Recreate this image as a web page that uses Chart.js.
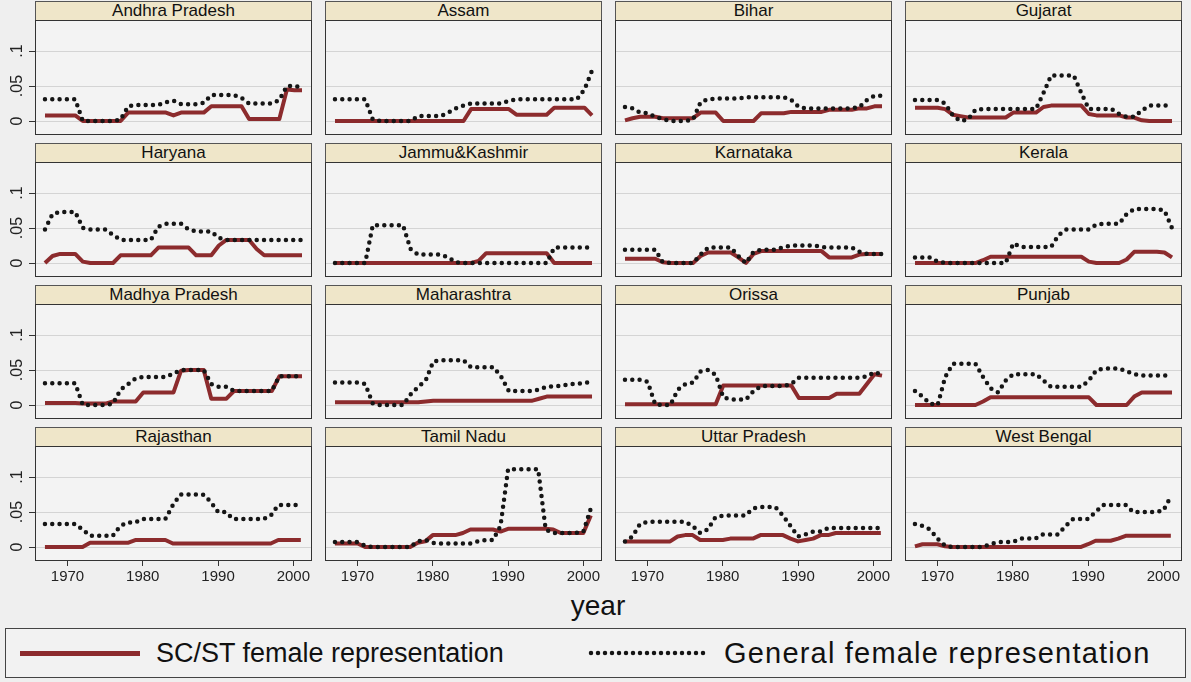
<!DOCTYPE html>
<html>
<head>
<meta charset="utf-8">
<script src="https://cdn.jsdelivr.net/npm/chart.js@4.4.1/dist/chart.umd.min.js"></script>
<style>
    body { margin: 0; width: 1191px; height: 682px; overflow: hidden; position: relative;
           background: #efefef; font-family: "Liberation Sans", Arial, sans-serif; color: #111; }
    .strip { position: absolute; box-sizing: border-box; height: 21px; background: #efe6c9;
             border: 1px solid #555; border-bottom: 2px solid #222; text-align: center;
             font-size: 17px; line-height: 18px; }
    .fondo { position: absolute; background: #f3f3f3; }
    .marco { position: absolute; box-sizing: border-box; border: 1px solid #333; pointer-events: none; }
    canvas { position: absolute; }
    .titulo { position: absolute; font-size: 28px; transform: translateX(-50%); }
    .leyenda { position: absolute; left: 5px; top: 628px; width: 1181px; height: 50px; box-sizing: border-box;
               border: 1px solid #444; background: #f2f2f2; }
    .leyenda span { position: absolute; top: 9px; font-size: 27px; white-space: nowrap; }
</style>
</head>
<body>

<div class="titulo" style="left:598px; top:590px;">year</div>
<div class="leyenda">
    <div style="position:absolute; left:14px; top:22px; width:120px; height:5px; background:#8c2b2d;"></div>
    <span style="left:150px;">SC/ST female representation</span>
    <svg style="position:absolute; left:582px; top:16px;" width="124" height="16">
        <line x1="3" y1="8" x2="121" y2="8" stroke="#151515" stroke-width="4.5" stroke-linecap="round" stroke-dasharray="0 7"/>
    </svg>
    <span style="left:718px; top:8px; font-size:29px; letter-spacing:1.2px;">General female representation</span>
</div>

<script>
const years = [1967, 1968, 1969, 1970, 1971, 1972, 1973, 1974, 1975, 1976, 1977, 1978, 1979, 1980, 1981, 1982, 1983,
               1984, 1985, 1986, 1987, 1988, 1989, 1990, 1991, 1992, 1993, 1994, 1995, 1996, 1997, 1998, 1999, 2000, 2001];
const xTicks = [1970, 1980, 1990, 2000];
const yTicks = [0, 0.05, 0.1];
const yTickLabels = ['0', '.05', '.1'];

const states = ['Andhra Pradesh', 'Assam', 'Bihar', 'Gujarat',
                'Haryana', 'Jammu&Kashmir', 'Karnataka', 'Kerala',
                'Madhya Pradesh', 'Maharashtra', 'Orissa', 'Punjab',
                'Rajasthan', 'Tamil Nadu', 'Uttar Pradesh', 'West Bengal'];

// SC/ST female representation (SC) y general female representation (Gen), 1967-2001
const andhraSC = [.008,.008,.008,.008,.008,0,0,0,0,0,0,.012,.012,.012,.012,.012,.012,.008,.012,.012,.012,.012,.021,.021,.021,.021,.021,.003,.003,.003,.003,.003,.045,.044,.044];
const andhraGen = [.031,.031,.031,.031,.031,0,0,0,0,0,.002,.021,.023,.023,.023,.023,.027,.029,.024,.024,.024,.026,.037,.037,.037,.037,.033,.025,.025,.025,.025,.030,.050,.050,.048];
const assamSC = [0,0,0,0,0,0,0,0,0,0,0,0,0,0,0,0,0,0,.017,.017,.017,.017,.017,.017,.009,.009,.009,.009,.009,.019,.019,.019,.019,.019,.008];
const assamGen = [.031,.031,.031,.031,.031,.002,0,0,0,0,0,.007,.007,.007,.007,.012,.018,.022,.025,.025,.025,.025,.025,.029,.031,.031,.031,.031,.031,.031,.031,.031,.031,.045,.072];
const biharSC = [.001,.004,.006,.006,.006,.004,.004,.004,.004,.004,.012,.012,.012,0,0,0,0,0,.011,.011,.011,.011,.013,.013,.013,.013,.013,.016,.016,.016,.016,.018,.018,.021,.021];
const biharGen = [.020,.018,.012,.011,.006,.003,0,0,0,.002,.027,.031,.032,.032,.032,.032,.034,.034,.034,.034,.034,.034,.030,.020,.018,.018,.018,.018,.018,.018,.018,.020,.030,.036,.036];
const gujaratSC = [.019,.019,.019,.019,.017,.009,.007,.005,.005,.005,.005,.005,.005,.012,.012,.012,.012,.020,.022,.022,.022,.022,.022,.010,.008,.008,.008,.008,.005,.005,.001,0,0,0,0];
const gujaratGen = [.030,.030,.030,.030,.025,.008,0,.002,.016,.017,.017,.017,.017,.017,.017,.017,.017,.040,.065,.065,.065,.065,.040,.017,.017,.017,.017,.010,.006,.006,.015,.022,.022,.022,.022];
const haryanaSC = [0,.010,.013,.013,.013,.002,0,0,0,0,.011,.011,.011,.011,.011,.022,.022,.022,.022,.022,.011,.011,.011,.025,.033,.033,.033,.033,.020,.011,.011,.011,.011,.011,.011];
const haryanaGen = [.048,.070,.073,.073,.073,.050,.048,.048,.048,.040,.033,.033,.033,.033,.033,.052,.056,.056,.056,.048,.045,.045,.045,.036,.033,.033,.033,.033,.033,.033,.033,.033,.033,.033,.033];
const jkSC = [0,0,0,0,0,0,0,0,0,0,0,0,0,0,0,0,0,0,0,.003,.014,.014,.014,.014,.014,.014,.014,.014,.014,0,0,0,0,0,0];
const jkGen = [0,0,0,0,0,.054,.054,.054,.054,.054,.020,.012,.012,.012,.012,.008,.001,0,0,0,0,0,0,0,0,0,0,0,0,.022,.022,.022,.022,.022,.022];
const karnatakaSC = [.006,.006,.006,.006,.006,.001,0,0,0,0,.010,.015,.015,.015,.015,.008,0,.013,.017,.017,.017,.017,.017,.017,.017,.017,.017,.008,.008,.008,.008,.012,.013,.013,.013];
const karnatakaGen = [.019,.019,.019,.019,.019,.001,0,0,0,0,.012,.022,.022,.022,.022,.010,0,.016,.019,.019,.019,.023,.025,.025,.025,.025,.023,.022,.022,.022,.022,.016,.013,.013,.013];
const keralaSC = [0,0,0,0,0,0,0,0,0,.004,.009,.009,.009,.009,.009,.009,.009,.009,.009,.009,.009,.009,.009,.002,0,0,0,0,.005,.016,.016,.016,.016,.015,.008];
const keralaGen = [.008,.008,.008,.002,0,0,0,0,0,0,0,0,0,.028,.023,.023,.023,.023,.023,.040,.048,.048,.048,.048,.055,.056,.056,.056,.070,.077,.077,.077,.077,.075,.050];
const mpSC = [.003,.003,.003,.003,.003,.002,.002,.002,.002,.005,.005,.005,.005,.018,.018,.018,.018,.018,.049,.050,.050,.050,.009,.009,.009,.020,.020,.020,.020,.020,.020,.041,.041,.041,.041];
const mpGen = [.031,.031,.031,.031,.031,0,0,0,0,.002,.022,.030,.038,.040,.040,.040,.040,.045,.050,.050,.050,.050,.030,.026,.026,.020,.020,.020,.020,.020,.020,.041,.041,.041,.041];
const mahaSC = [.004,.004,.004,.004,.004,.004,.004,.004,.004,.004,.004,.004,.005,.006,.006,.006,.006,.006,.006,.006,.006,.006,.006,.006,.006,.006,.006,.009,.012,.012,.012,.012,.012,.012,.012];
const mahaGen = [.032,.032,.032,.032,.030,.002,0,0,0,0,.015,.026,.035,.062,.064,.064,.064,.064,.054,.054,.054,.054,.040,.020,.020,.020,.020,.022,.026,.027,.027,.030,.030,.032,.032];
const orissaSC = [.001,.001,.001,.001,.001,.001,.001,.001,.001,.001,.001,.001,.001,.028,.028,.028,.028,.028,.028,.028,.028,.028,.028,.010,.010,.010,.010,.010,.016,.016,.016,.016,.030,.044,.042];
const orissaGen = [.036,.036,.036,.033,.001,0,0,.022,.030,.032,.048,.050,.043,.011,.008,.008,.008,.020,.027,.027,.027,.027,.030,.039,.039,.039,.039,.039,.039,.039,.039,.039,.041,.047,.043];
const punjabSC = [0,0,0,0,0,0,0,0,0,.005,.011,.011,.011,.011,.011,.011,.011,.011,.011,.011,.011,.011,.011,.011,0,0,0,0,0,.012,.018,.018,.018,.018,.018];
const punjabGen = [.020,.012,.002,0,.040,.059,.059,.059,.059,.040,.024,.018,.035,.044,.044,.044,.044,.035,.026,.026,.026,.026,.026,.035,.050,.052,.052,.052,.048,.044,.042,.042,.042,.042,.042];
const rajSC = [0,0,0,0,0,0,.006,.006,.006,.006,.006,.006,.010,.010,.010,.010,.010,.005,.005,.005,.005,.005,.005,.005,.005,.005,.005,.005,.005,.005,.005,.010,.010,.010,.010];
const rajGen = [.033,.033,.033,.033,.033,.025,.016,.016,.016,.016,.030,.035,.035,.040,.040,.040,.040,.060,.075,.075,.075,.075,.065,.050,.050,.040,.040,.040,.040,.040,.045,.060,.060,.060,.060];
const tnSC = [.005,.005,.005,.005,0,0,0,0,0,0,0,.006,.008,.017,.017,.017,.017,.020,.025,.025,.025,.025,.022,.026,.026,.026,.026,.026,.026,.025,.020,.020,.020,.020,.045];
const tnGen = [.007,.007,.007,.007,.002,0,0,0,0,0,0,.008,.010,.006,.005,.005,.005,.005,.005,.008,.010,.010,.030,.111,.111,.111,.111,.111,.025,.020,.020,.020,.020,.022,.055];
const upSC = [.008,.008,.008,.008,.008,.008,.008,.015,.017,.017,.010,.010,.010,.010,.012,.012,.012,.012,.017,.017,.017,.017,.012,.008,.010,.012,.017,.017,.020,.020,.020,.020,.020,.020,.020];
const upGen = [.008,.015,.033,.036,.036,.036,.036,.036,.036,.030,.020,.025,.042,.045,.045,.045,.045,.055,.057,.057,.057,.045,.030,.015,.018,.022,.022,.027,.027,.027,.027,.027,.027,.027,.027];
const wbSC = [.001,.004,.004,.004,.001,0,0,0,0,0,0,0,0,0,0,0,0,0,0,0,0,0,0,.004,.009,.009,.009,.012,.016,.016,.016,.016,.016,.016,.016];
const wbGen = [.033,.030,.025,.012,.002,0,0,0,0,0,.004,.007,.007,.007,.012,.012,.012,.018,.018,.018,.030,.040,.040,.040,.050,.060,.060,.060,.060,.050,.050,.050,.050,.052,.072];

const paneles = [
    [andhraSC, andhraGen], [assamSC, assamGen], [biharSC, biharGen], [gujaratSC, gujaratGen],
    [haryanaSC, haryanaGen], [jkSC, jkGen], [karnatakaSC, karnatakaGen], [keralaSC, keralaGen],
    [mpSC, mpGen], [mahaSC, mahaGen], [orissaSC, orissaGen], [punjabSC, punjabGen],
    [rajSC, rajGen], [tnSC, tnGen], [upSC, upGen], [wbSC, wbGen]
];

// Posiciones de la rejilla 4x4
const colLeft = [35, 325, 615, 905];
const stripTop = [1, 143, 285, 427];
const anchoPlot = 277;
const altoStrip = 20;
const altoPlot = 114;
const ejeY = 35;
const ejeX = 26;
const fuente = '"Liberation Sans", Arial, sans-serif';

// Etiquetas verticales del eje y (solo la primera columna)
const etiquetasY = {
    id: 'etiquetasY',
    afterDraw(chart) {
        const ctx = chart.ctx;
        const escala = chart.scales.y;
        ctx.save();
        ctx.font = '16px ' + fuente;
        ctx.fillStyle = '#222';
        ctx.textAlign = 'center';
        ctx.textBaseline = 'middle';
        yTicks.forEach((v, k) => {
            ctx.save();
            ctx.translate(18, escala.getPixelForValue(v));
            ctx.rotate(-Math.PI / 2);
            ctx.fillText(yTickLabels[k], 0, 0);
            ctx.restore();
        });
        ctx.restore();
    }
};

function crearPanel(i) {
    const fila = Math.floor(i / 4);
    const col = i % 4;
    const izquierda = col === 0;
    const abajo = fila === 3;
    const x0 = colLeft[col];
    const y0 = stripTop[fila] + altoStrip;

    const strip = document.createElement('div');
    strip.className = 'strip';
    strip.style.left = x0 + 'px';
    strip.style.top = stripTop[fila] + 'px';
    strip.style.width = anchoPlot + 'px';
    strip.textContent = states[i];
    document.body.appendChild(strip);

    const fondo = document.createElement('div');
    fondo.className = 'fondo';
    fondo.style.cssText = `left:${x0}px;top:${y0}px;width:${anchoPlot}px;height:${altoPlot}px;`;
    document.body.appendChild(fondo);

    const canvas = document.createElement('canvas');
    canvas.width = anchoPlot + (izquierda ? ejeY : 0);
    canvas.height = altoPlot + (abajo ? ejeX : 0);
    canvas.style.left = (x0 - (izquierda ? ejeY : 0)) + 'px';
    canvas.style.top = y0 + 'px';
    document.body.appendChild(canvas);

    const marco = document.createElement('div');
    marco.className = 'marco';
    marco.style.cssText = `left:${x0}px;top:${y0 - 1}px;width:${anchoPlot}px;height:${altoPlot + 1}px;`;
    document.body.appendChild(marco);

    const [sc, gen] = paneles[i];

    new Chart(canvas.getContext('2d'), {
        type: 'line',
        data: {
            datasets: [{
                label: 'General female representation',
                data: years.map((a, k) => ({ x: a, y: gen[k] })),
                borderColor: '#151515',
                borderWidth: 4.5,
                borderDash: [0, 7.3],
                borderCapStyle: 'round',
                pointRadius: 0,
                tension: 0,
                order: 0
            }, {
                label: 'SC/ST female representation',
                data: years.map((a, k) => ({ x: a, y: sc[k] })),
                borderColor: '#8c2b2d',
                borderWidth: 4,
                borderJoinStyle: 'round',
                pointRadius: 0,
                tension: 0,
                order: 1
            }]
        },
        options: {
            responsive: false,
            animation: false,
            events: [],
            layout: { padding: 0 },
            plugins: { legend: { display: false }, tooltip: { enabled: false } },
            scales: {
                x: {
                    type: 'linear',
                    min: 1965.68,
                    max: 2002.32,
                    afterBuildTicks: s => { s.ticks = xTicks.map(v => ({ value: v })); },
                    afterFit: s => { s.height = abajo ? ejeX : 0; },
                    grid: { drawOnChartArea: false, drawTicks: abajo, tickLength: 5, tickColor: '#333' },
                    border: { display: false },
                    ticks: { display: abajo, autoSkip: false, maxRotation: 0, padding: 2,
                             color: '#222', font: { size: 15, family: fuente },
                             callback: v => String(v) }
                },
                y: {
                    min: -0.02,
                    max: 0.1429,
                    afterBuildTicks: s => { s.ticks = yTicks.map(v => ({ value: v })); },
                    afterFit: s => { s.width = izquierda ? ejeY : 0; },
                    grid: { color: '#d4d4d4', lineWidth: 1, drawTicks: izquierda, tickLength: 6, tickColor: '#333' },
                    border: { display: false },
                    ticks: { display: false }
                }
            }
        },
        plugins: izquierda ? [etiquetasY] : []
    });
}

for (let i = 0; i < states.length; i++) {
    crearPanel(i);
}
</script>
</body>
</html>
